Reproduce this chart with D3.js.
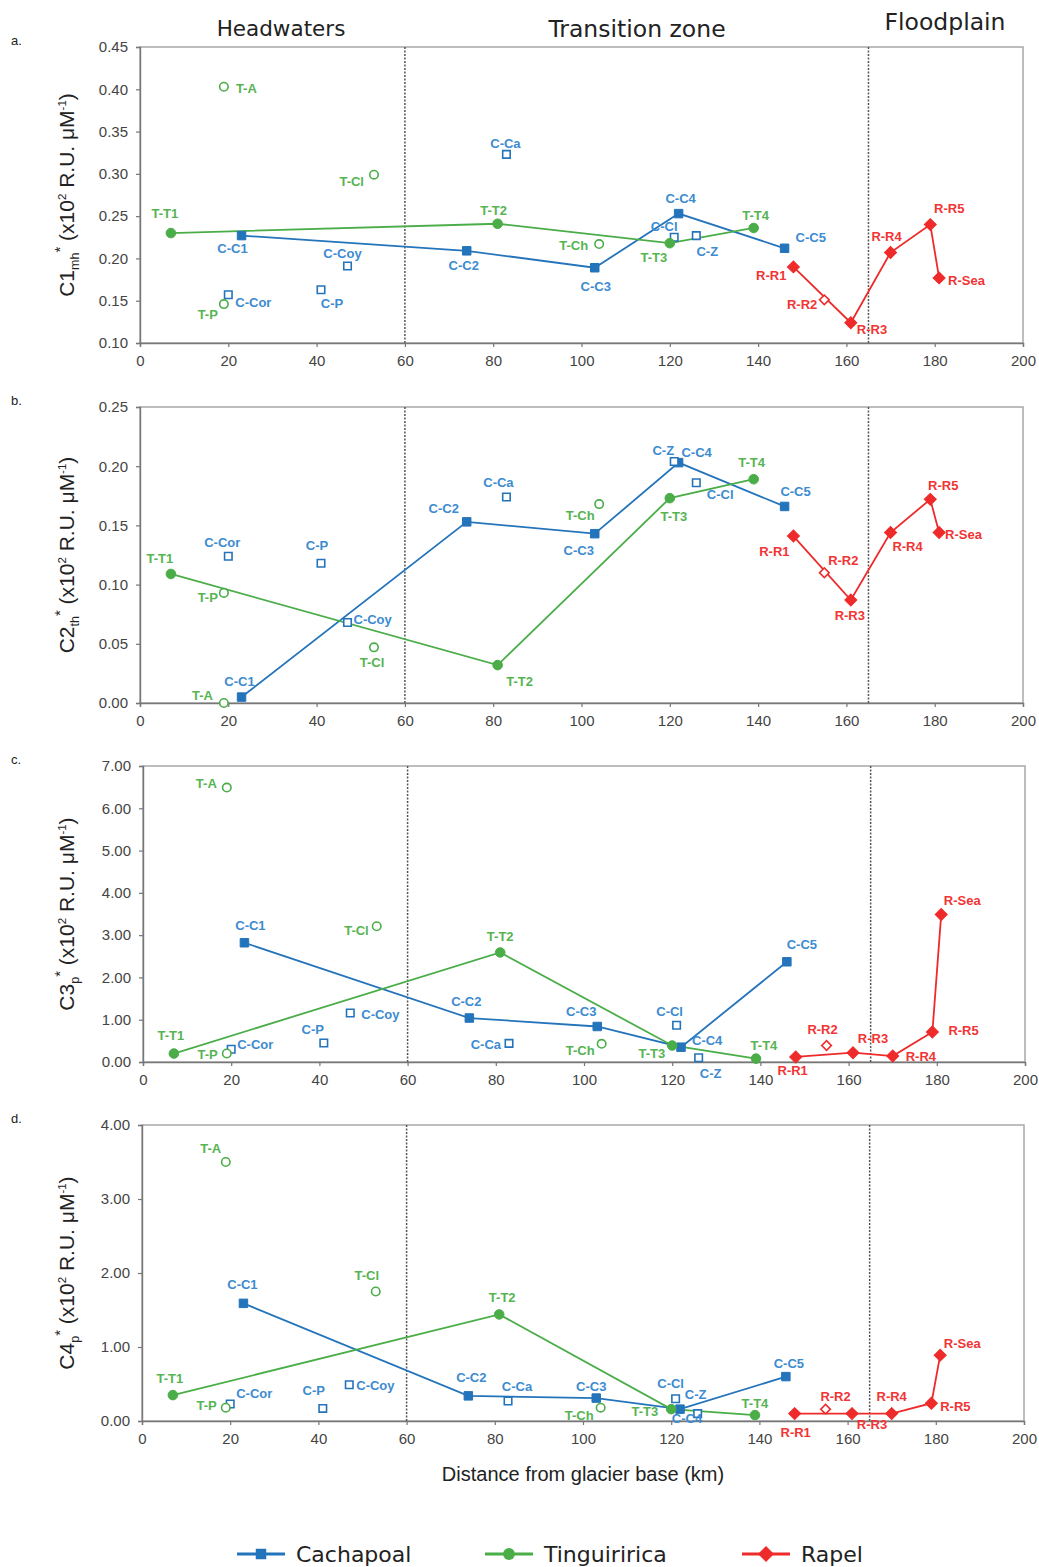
<!DOCTYPE html>
<html>
<head>
<meta charset="utf-8">
<script src="https://cdn.jsdelivr.net/npm/d3@7"></script>
<style>
  body { margin: 0; background: #fff; }
  svg { display: block; }
</style>
</head>
<body>
<div id="chart"></div>
<script>
// stations and distance from glacier base (km)
const cachMain = ["C-C1", "C-C2", "C-C3", "C-C4", "C-C5"];
const cachMainKm = [23, 74, 103, 122, 146];
const cachTrib = ["C-Cor", "C-P", "C-Coy", "C-Ca", "C-Cl", "C-Z"];
const cachTribKm = [20, 41, 47, 83, 121, 126];
const tingMain = ["T-T1", "T-T2", "T-T3", "T-T4"];
const tingMainKm = [7, 81, 120, 139];
const tingTrib = ["T-A", "T-P", "T-Cl", "T-Ch"];
const tingTribKm = [19, 19, 53, 104];
const rapelMain = ["R-R1", "R-R3", "R-R4", "R-R5", "R-Sea"];
const rapelMainKm = [148, 161, 170, 179, 181];
const rapelTrib = ["R-R2"];
const rapelTribKm = [155];

// panel a: C1mh*
const c1CachMain = [0.227, 0.209, 0.189, 0.253, 0.212];
const c1CachTrib = [0.157, 0.163, 0.191, 0.323, 0.225, 0.227];
const c1TingMain = [0.230, 0.241, 0.218, 0.236];
const c1TingTrib = [0.403, 0.146, 0.299, 0.217];
const c1RapelMain = [0.190, 0.124, 0.207, 0.240, 0.177];
const c1RapelTrib = [0.151];

// panel b: C2th*
const c2CachMain = [0.005, 0.153, 0.143, 0.203, 0.166];
const c2CachTrib = [0.124, 0.118, 0.068, 0.174, 0.204, 0.186];
const c2TingMain = [0.109, 0.032, 0.173, 0.189];
const c2TingTrib = [0.000, 0.093, 0.047, 0.168];
const c2RapelMain = [0.141, 0.087, 0.144, 0.172, 0.144];
const c2RapelTrib = [0.110];

// panel c: C3p*
const c3CachMain = [2.82, 1.04, 0.84, 0.35, 2.37];
const c3CachTrib = [0.30, 0.45, 1.16, 0.44, 0.87, 0.10];
const c3TingMain = [0.20, 2.59, 0.39, 0.08];
const c3TingTrib = [6.49, 0.20, 3.21, 0.43];
const c3RapelMain = [0.12, 0.22, 0.14, 0.71, 3.49];
const c3RapelTrib = [0.39];

// panel d: C4p*
const c4CachMain = [1.59, 0.34, 0.31, 0.16, 0.60];
const c4CachTrib = [0.23, 0.17, 0.49, 0.27, 0.30, 0.10];
const c4TingMain = [0.35, 1.44, 0.16, 0.08];
const c4TingTrib = [3.50, 0.18, 1.75, 0.18];
const c4RapelMain = [0.10, 0.10, 0.10, 0.24, 0.89];
const c4RapelTrib = [0.16];

const xTicks = [0, 20, 40, 60, 80, 100, 120, 140, 160, 180, 200];
const yTicksA = [0.10, 0.15, 0.20, 0.25, 0.30, 0.35, 0.40, 0.45];
const yTicksB = [0.00, 0.05, 0.10, 0.15, 0.20, 0.25];
const yTicksC = [0, 1, 2, 3, 4, 5, 6, 7];
const yTicksD = [0, 1, 2, 3, 4];
const zoneBreaks = [60, 165];
const zoneNames = ["Headwaters", "Transition zone", "Floodplain"];
const seriesNames = ["Cachapoal", "Tinguiririca", "Rapel"];

// label placement: name anchor dx dy
const labelsA = "T-A s 12 2|T-Cl e -10 7|T-T1 m -6 -20|C-C1 m -9 13|C-Coy m -5 -13|C-Cor s 7 8|T-P e -6 10|C-P m 11 14|C-C2 m -3 15|T-T2 m -4 -13|C-Ca m -1 -11|C-C4 m 2 -15|C-Cl m -10 -11|C-Z m 11 16|T-T4 m 2 -12|T-Ch e -11 1|T-T3 m -16 14|C-C3 m 1 19|C-C5 s 11 -11|R-R1 e -7 9|R-R2 e -7 5|R-R3 s 6 7|R-R4 m -4 -16|R-R5 m 19 -16|R-Sea s 9 3";
const labelsB = "C-Cor m -6 -14|C-P m -4 -18|T-T1 m -11 -15|T-P e -6 5|C-Coy s 6 -3|T-Cl m -2 15|C-C1 m -2 -16|T-A e -11 -8|C-C2 m -23 -13|C-Ca m -8 -14|T-T2 m 22 16|T-Ch m -19 11|C-C3 m -16 17|C-Cl m 46 33|C-Z m -33 -32|C-C4 m 18 -10|T-T3 m 4 18|T-T4 m -2 -17|C-C5 m 11 -15|R-R1 m -19 15|R-R2 m 19 -12|R-R3 m -1 16|R-R4 m 17 14|R-R5 m 13 -14|R-Sea s 6 2";
const labelsC = "T-A e -10 -4|C-C1 m 6 -17|T-Cl e -8 4|T-T2 m 0 -16|C-C2 m -3 -17|C-Coy s 11 2|C-P m -11 -13|C-Ca e -8 1|T-T1 m -3 -18|C-Cor s 6 -5|T-P e -9 1|C-C3 m -16 -15|T-Ch e -7 7|C-Cl m -7 -14|T-T3 e -7 8|C-C4 s 11 -7|C-Z m 12 16|T-T4 m 8 -13|C-C5 m 15 -17|R-R1 m -3 14|R-R2 m -4 -16|R-R3 m 20 -14|R-R4 s 13 0|R-R5 s 16 -1|R-Sea m 21 -14";
const labelsD = "T-A m -15 -14|C-C1 m -1 -19|T-Cl m -9 -16|T-T2 m 3 -17|T-T1 m -3 -17|C-Cor s 6 -10|T-P e -9 -2|C-P m -9 -18|C-Coy s 7 1|C-C2 m 3 -18|C-Ca m 9 -15|C-C3 m -5 -12|T-Ch e -7 8|C-Cl m -5 -15|T-T3 e -13 2|C-C4 m 7 9|C-Z m -2 -19|T-T4 m 0 -12|C-C5 m 3 -13|R-R1 m 1 19|R-R2 m 10 -13|R-R3 m 20 11|R-R4 m 0 -17|R-R5 m 24 3|R-Sea m 22 -12";

const blue = "#2474bb", green = "#4aad48", red = "#ee2a2a";
const blueTxt = "#3d8bd0", greenTxt = "#56b452", redTxt = "#f23434";

const W = 1039, H = 1567;
const svg = d3.select("#chart").append("svg")
    .attr("width", W).attr("height", H)
    .attr("viewBox", `0 0 ${W} ${H}`);
svg.append("rect").attr("width", W).attr("height", H).attr("fill", "#fff");

const panels = [
    { letter: "a.", top: 47, bottom: 343, left: 140, right: 1023, domain: [0.10, 0.45], ticks: yTicksA,
      sub: "mh", head: "C1", labels: labelsA,
      vals: [c1CachMain, c1CachTrib, c1TingMain, c1TingTrib, c1RapelMain, c1RapelTrib] },
    { letter: "b.", top: 407, bottom: 703, left: 140, right: 1023, domain: [0, 0.25], ticks: yTicksB,
      sub: "th", head: "C2", labels: labelsB,
      vals: [c2CachMain, c2CachTrib, c2TingMain, c2TingTrib, c2RapelMain, c2RapelTrib] },
    { letter: "c.", top: 766, bottom: 1062, left: 143, right: 1025, domain: [0, 7], ticks: yTicksC,
      sub: "p", head: "C3", labels: labelsC,
      vals: [c3CachMain, c3CachTrib, c3TingMain, c3TingTrib, c3RapelMain, c3RapelTrib] },
    { letter: "d.", top: 1125, bottom: 1421, left: 142, right: 1024, domain: [0, 4], ticks: yTicksD,
      sub: "p", head: "C4", labels: labelsD,
      vals: [c4CachMain, c4CachTrib, c4TingMain, c4TingTrib, c4RapelMain, c4RapelTrib] }
];

// diamonds are squares turned by 45 degrees
const groups = [
    { names: cachMain, km: cachMainKm, color: blue, txt: blueTxt, sym: d3.symbolSquare, size: 72, rot: 0, filled: true, line: true },
    { names: cachTrib, km: cachTribKm, color: blue, txt: blueTxt, sym: d3.symbolSquare, size: 56, rot: 0, filled: false, line: false },
    { names: tingMain, km: tingMainKm, color: green, txt: greenTxt, sym: d3.symbolCircle, size: 72, rot: 0, filled: true, line: true },
    { names: tingTrib, km: tingTribKm, color: green, txt: greenTxt, sym: d3.symbolCircle, size: 56, rot: 0, filled: false, line: false },
    { names: rapelMain, km: rapelMainKm, color: red, txt: redTxt, sym: d3.symbolSquare, size: 72, rot: 45, filled: true, line: true },
    { names: rapelTrib, km: rapelTribKm, color: red, txt: redTxt, sym: d3.symbolSquare, size: 46, rot: 45, filled: false, line: false }
];

const font = "'Liberation Sans', Arial, sans-serif";

panels.forEach(p => {
    const x = d3.scaleLinear().domain([0, 200]).range([p.left, p.right]);
    const y = d3.scaleLinear().domain(p.domain).range([p.bottom, p.top]);
    const g = svg.append("g");

    // frame
    g.append("rect")
        .attr("x", p.left).attr("y", p.top)
        .attr("width", p.right - p.left).attr("height", p.bottom - p.top)
        .attr("fill", "none").attr("stroke", "#a8a8a8").attr("stroke-width", 1.5);

    // zone separators
    g.selectAll(".zone").data(zoneBreaks).join("line")
        .attr("x1", d => x(d)).attr("x2", d => x(d))
        .attr("y1", p.top).attr("y2", p.bottom)
        .attr("stroke", "#555").attr("stroke-width", 1.5)
        .attr("stroke-dasharray", "2,1.5");

    // axes
    const yAxis = g.append("g").attr("transform", `translate(${p.left},0)`)
        .call(d3.axisLeft(y).tickValues(p.ticks).tickFormat(d3.format(".2f")).tickSize(4).tickPadding(8));
    const xAxis = g.append("g").attr("transform", `translate(0,${p.bottom})`)
        .call(d3.axisBottom(x).tickValues(xTicks).tickFormat(d3.format("d")).tickSize(4).tickPadding(8));
    [yAxis, xAxis].forEach(a => {
        a.select(".domain").attr("stroke", "#777").attr("stroke-width", 1.4);
        a.selectAll(".tick line").attr("stroke", "#777").attr("stroke-width", 1.2);
        a.selectAll("text").attr("fill", "#444").style("font-family", font).style("font-size", "15px");
    });

    // panel letter
    svg.append("text").attr("x", 11).attr("y", p.top - 2)
        .attr("font-family", font).attr("font-size", 13).attr("fill", "#222").text(p.letter);

    // y title
    const cy = (p.top + p.bottom) / 2;
    const t = svg.append("text")
        .attr("transform", `translate(74,${cy}) rotate(-90)`)
        .attr("text-anchor", "middle")
        .attr("font-family", font).attr("font-size", 21).attr("fill", "#222");
    t.append("tspan").text(p.head);
    t.append("tspan").attr("font-size", 12.5).attr("dy", 5).text(p.sub);
    t.append("tspan").attr("font-size", 15).attr("dy", -14).text("*");
    t.append("tspan").attr("dy", 9).text(" (x10");
    t.append("tspan").attr("font-size", 11.5).attr("dy", -8).text("2");
    t.append("tspan").attr("dy", 8).text(" R.U. \u03bcM");
    t.append("tspan").attr("font-size", 11.5).attr("dy", -8).text("-1");
    t.append("tspan").attr("dy", 8).text(")");

    // lines
    groups.forEach((gr, i) => {
        const pts = gr.names.map((n, j) => ({ name: n, km: gr.km[j], v: p.vals[i][j] }));
        gr.pts = pts;
        if (gr.line) {
            g.append("path").datum(pts)
                .attr("fill", "none").attr("stroke", gr.color).attr("stroke-width", 1.8)
                .attr("d", d3.line().x(d => x(d.km)).y(d => y(d.v)));
        }
    });

    // markers
    const byName = new Map();
    groups.forEach(gr => {
        gr.pts.forEach(d => byName.set(d.name, { d, gr }));
        g.selectAll(null).data(gr.pts).join("path")
            .attr("transform", d => `translate(${x(d.km)},${y(d.v)}) rotate(${gr.rot})`)
            .attr("d", d3.symbol().type(gr.sym).size(gr.size))
            .attr("fill", gr.filled ? gr.color : "#fff")
            .attr("stroke", gr.color)
            .attr("stroke-width", gr.filled ? 1 : 1.6);
    });

    // station labels
    const anchors = { s: "start", m: "middle", e: "end" };
    p.labels.split("|").forEach(s => {
        const [name, a, dx, dy] = s.split(" ");
        const item = byName.get(name);
        if (!item) return;
        g.append("text")
            .attr("x", x(item.d.km) + +dx)
            .attr("y", y(item.d.v) + +dy)
            .attr("text-anchor", anchors[a])
            .attr("dominant-baseline", "central")
            .attr("font-family", font).attr("font-size", 13).attr("font-weight", "bold")
            .attr("fill", item.gr.txt)
            .text(name);
    });
});

// zone headings
const headX = [281, 637, 945], headY = [36, 37, 30], headSize = [21.5, 23.5, 23.5];
svg.selectAll(".head").data(zoneNames).join("text")
    .attr("x", (d, i) => headX[i]).attr("y", (d, i) => headY[i])
    .attr("text-anchor", "middle")
    .attr("font-family", "'DejaVu Sans', Verdana, sans-serif")
    .attr("font-size", (d, i) => headSize[i]).attr("fill", "#222")
    .text(d => d);

// x title
svg.append("text").attr("x", 583).attr("y", 1481)
    .attr("text-anchor", "middle")
    .attr("font-family", font).attr("font-size", 20).attr("fill", "#222")
    .text("Distance from glacier base (km)");

// legend
const legX = [237, 485, 742];
const legColors = [blue, green, red];
const legSyms = [d3.symbolSquare, d3.symbolCircle, d3.symbolSquare];
const legRot = [0, 0, 45];
const leg = svg.append("g");
seriesNames.forEach((n, i) => {
    const lx = legX[i], ly = 1554;
    leg.append("line").attr("x1", lx).attr("x2", lx + 48).attr("y1", ly).attr("y2", ly)
        .attr("stroke", legColors[i]).attr("stroke-width", 3);
    leg.append("path").attr("transform", `translate(${lx + 24},${ly}) rotate(${legRot[i]})`)
        .attr("d", d3.symbol().type(legSyms[i]).size(i === 2 ? 128 : 110))
        .attr("fill", legColors[i]);
    leg.append("text").attr("x", lx + 59).attr("y", ly + 8)
        .attr("font-family", "'DejaVu Sans', Verdana, sans-serif").attr("font-size", 22).attr("fill", "#222")
        .text(n);
});
</script>
</body>
</html>
